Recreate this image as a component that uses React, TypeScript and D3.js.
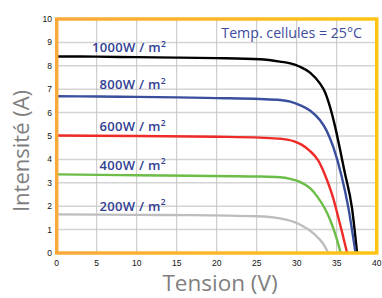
import React from "react";
import * as d3 from "d3";

const xTicks = [0, 5, 10, 15, 20, 25, 30, 35, 40];
const yTicks = [0, 1, 2, 3, 4, 5, 6, 7, 8, 9, 10];

const curve1000: [number, number][] = [[0,8.4],[5,8.39],[10,8.37],[15,8.35],[20,8.33],[25.4,8.28],[27.9,8.18],[29.2,8.1],[30.4,7.96],[31.7,7.7],[32.9,7.25],[33.5,6.9],[34.2,6.2],[34.8,5.4],[35.4,4.45],[36.0,3.45],[36.9,1.95],[37.55,0]];
const curve800: [number, number][] = [[0,6.7],[5,6.69],[10,6.67],[15,6.65],[20,6.62],[25.4,6.58],[27.9,6.54],[29.2,6.47],[30.4,6.32],[31.7,6.08],[32.9,5.68],[33.75,5.22],[34.6,4.5],[35.6,3.3],[36.45,1.95],[37.35,0]];
const curve600: [number, number][] = [[0,5.02],[10,5.0],[20,4.97],[25.4,4.93],[28,4.88],[29.6,4.78],[30.6,4.63],[31.6,4.38],[32.7,3.95],[33.75,3.15],[34.6,2.3],[35.1,1.65],[35.7,0.85],[36.3,0]];
const curve400: [number, number][] = [[0,3.36],[10,3.32],[16.7,3.3],[25,3.27],[27.9,3.24],[29.2,3.17],[30.4,3.04],[31.7,2.76],[32.6,2.4],[33.5,1.91],[34.2,1.4],[34.9,0.72],[35.5,0]];
const curve200: [number, number][] = [[0,1.65],[10,1.63],[16.7,1.62],[25,1.57],[27.9,1.48],[30.4,1.22],[32.1,0.84],[33.3,0.4],[33.95,0]];

const seriesNames = ["1000W / m", "800W / m", "600W / m", "400W / m", "200W / m"];
const seriesData = [curve1000, curve800, curve600, curve400, curve200];
const seriesColors = ["#000000", "#3a4e9e", "#ee2b27", "#6bbd47", "#bdbdbd"];

export default function App() {
  const W = 382, H = 298;
  const x = d3.scaleLinear().domain([0, 40]).range([56.7, 376.7]);
  const y = d3.scaleLinear().domain([0, 10]).range([253, 19]);
  const line = d3
    .line<[number, number]>()
    .x((d) => x(d[0]))
    .y((d) => y(d[1]))
    .curve(d3.curveMonotoneX);

  const labelPos = [
    { lx: 92, ly: 52 },
    { lx: 99.5, ly: 89 },
    { lx: 99.5, ly: 131 },
    { lx: 99.5, ly: 169.5 },
    { lx: 99.5, ly: 210.5 },
  ];

  return (
    <div style={{ position: "absolute", left: 0, top: 0 }}>
      <svg width={W} height={H} style={{ display: "block" }} fontFamily="'Open Sans', sans-serif">
        <defs>
          <linearGradient id="frame" x1="0" x2="1" y1="0" y2="0">
            <stop offset="0" stopColor="#f9a93c" />
            <stop offset="1" stopColor="#ffc415" />
          </linearGradient>
          <clipPath id="plot">
            <rect x={x(0)} y={y(10)} width={x(40) - x(0)} height={y(0) - y(10)} />
          </clipPath>
        </defs>
        <rect width={W} height={H} fill="#ffffff" />
        {yTicks.filter((t) => t > 0 && t < 10).map((t) => (
          <line key={"h" + t} x1={x(0)} x2={x(40)} y1={y(t)} y2={y(t)} stroke="#d4d4d4" strokeWidth={1.5} />
        ))}
        {xTicks.filter((t) => t > 0 && t < 40).map((t) => (
          <line key={"v" + t} x1={x(t)} x2={x(t)} y1={y(0)} y2={y(10)} stroke="#c4c4c4" strokeWidth={1} />
        ))}
        <g clipPath="url(#plot)">
          {seriesData.map((d, i) => (
            <path key={i} d={line(d) || ""} fill="none" stroke={seriesColors[i]} strokeWidth={2.4} strokeLinejoin="round" />
          ))}
        </g>
        <rect x={x(0)} y={y(10)} width={x(40) - x(0)} height={y(0) - y(10)} fill="none" stroke="url(#frame)" strokeWidth={3.5} />
        {seriesNames.map((n, i) => (
          <text key={n} x={labelPos[i].lx} y={labelPos[i].ly} fontSize={13} fontWeight={600} letterSpacing={0.3} fill="#323f94">
            {n}
            <tspan fontSize={8.5} dy={-5.5}>2</tspan>
          </text>
        ))}
        <text x={362} y={37.5} textAnchor="end" fontSize={14.2} fill="#3d4b9c">
          Temp. cellules = 25°C
        </text>
        {yTicks.map((t) => (
          <text key={"yl" + t} x={52} y={y(t) + 3} textAnchor="end" fontSize={8.5} fontFamily="'Liberation Sans', Arial, sans-serif" fill="#111">
            {t}
          </text>
        ))}
        {xTicks.map((t) => (
          <text key={"xl" + t} x={x(t)} y={266} textAnchor="middle" fontSize={8.5} fontFamily="'Liberation Sans', Arial, sans-serif" fill="#111">
            {t}
          </text>
        ))}
        <text x={220} y={291} textAnchor="middle" fontSize={22.5} fill="#7f7f7f">
          Tension (V)
        </text>
        <text transform="translate(29,151) rotate(-90)" textAnchor="middle" fontSize={22} fill="#7f7f7f">
          Intensité (A)
        </text>
      </svg>
    </div>
  );
}
